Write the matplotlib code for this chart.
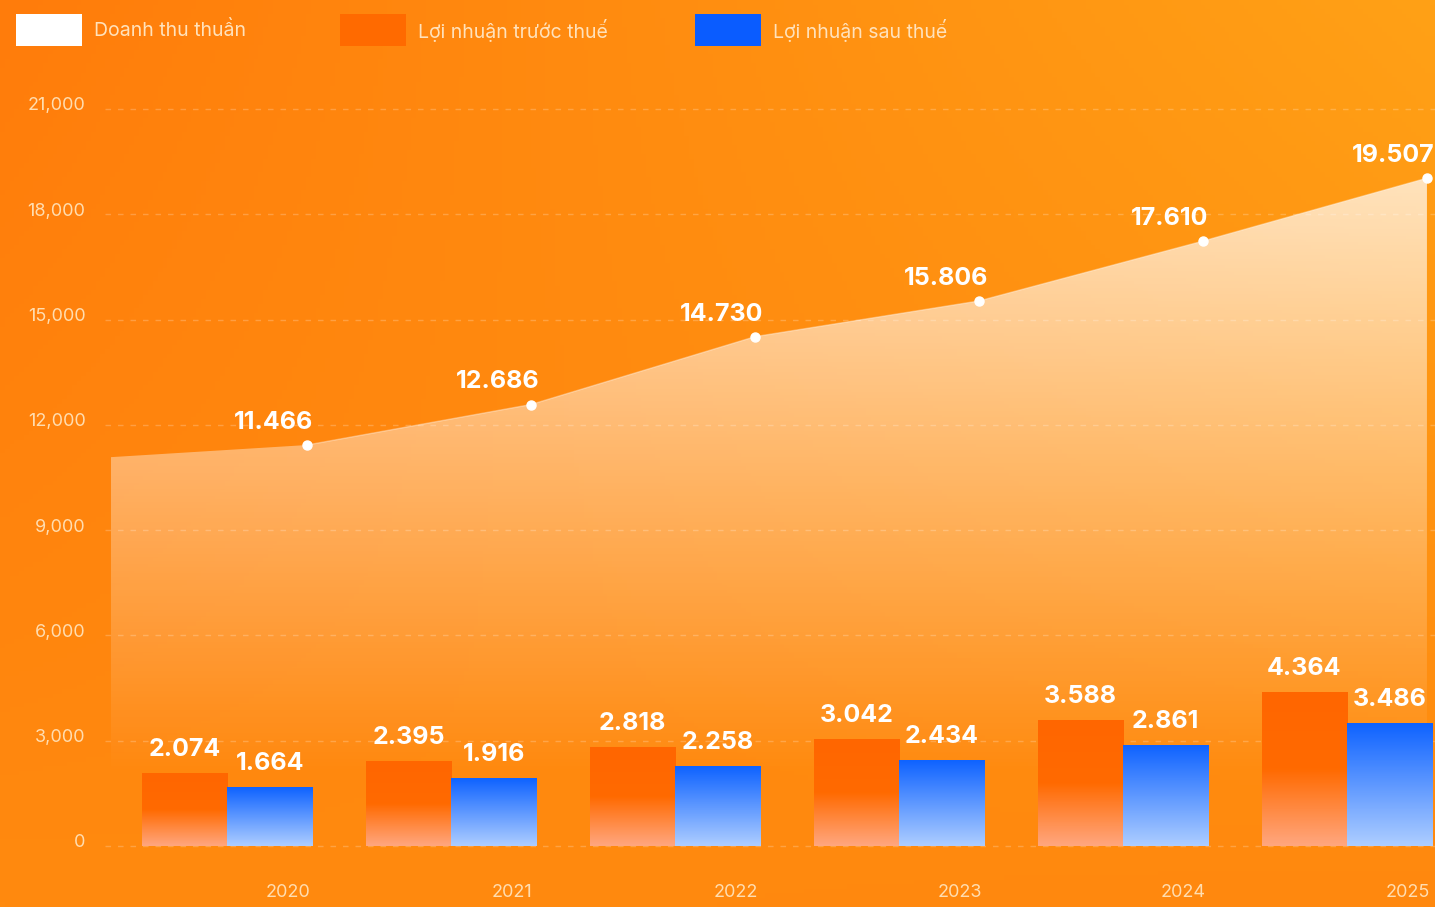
import numpy as np
import matplotlib.pyplot as plt
import matplotlib.transforms as mtransforms
from matplotlib.colors import LinearSegmentedColormap, to_rgb
from matplotlib.patches import Rectangle

plt.rcParams['font.family'] = ['Inter', 'DejaVu Sans']

# data (ty dong)
years = ['2020', '2021', '2022', '2023', '2024', '2025']
revenue = [11466, 12686, 14730, 15806, 17610, 19507]
revenue_start = 11100   # area begins a little left of 2020
profit_before = [2074, 2395, 2818, 3042, 3588, 4364]
profit_after = [1664, 1916, 2258, 2434, 2861, 3486]
yticks = [0, 3000, 6000, 9000, 12000, 15000, 18000, 21000]

W, H = 1435, 907
fig = plt.figure(figsize=(W / 100, H / 100), dpi=100)

# orange gradient background
bg = fig.add_axes([0, 0, 1, 1], zorder=0)
gx = np.linspace(0, 1, 300)[None, :, None]
gy = np.linspace(0, 1, 200)[:, None, None]
tl, tr, bl, br = [np.array(to_rgb(c)) for c in ['#FF7C0B', '#FFA116', '#FF8A0F', '#FF880E']]
img = (1 - gy) * ((1 - gx) * tl + gx * tr) + gy * ((1 - gx) * bl + gx * br)
bg.imshow(img, extent=[0, 1, 0, 1], aspect='auto', origin='upper')
bg.axis('off')

rect = [105 / W, 47 / H, 1 - 105 / W, 1 - 47 / H]
# ax: grid + ticks, ax2: revenue area (own, slightly compressed scale as in the original), ax3: bars
ax = fig.add_axes(rect, zorder=1)
ax.patch.set_alpha(0)
ax2 = fig.add_axes(rect, zorder=2, sharex=ax)
ax2.patch.set_alpha(0)
ax2.axis('off')
ax3 = fig.add_axes(rect, zorder=3, sharex=ax, sharey=ax)
ax3.patch.set_alpha(0)
ax3.axis('off')

x = np.arange(len(years))
line_x = x + 0.357

# revenue area with fading white fill
area_x = np.r_[-0.52, line_x]
area_y = np.r_[revenue_start, revenue]
poly = ax2.fill_between(area_x, area_y, -1100, facecolor='none', edgecolor='none')
vals = np.linspace(-1100, 20000, 400)[:, None]
rgba = np.ones((400, 1, 4))
rgba[..., 3] = np.clip(4e-5 * (vals - 1500), 0, 1)
im = ax2.imshow(rgba, extent=[area_x[0], area_x[-1], -1100, 20000], origin='lower',
                aspect='auto', zorder=1)
im.set_clip_path(poly.get_paths()[0], transform=ax2.transData)
ax2.plot(line_x, revenue, color='white', lw=1, alpha=0.35, zorder=3)
ax2.plot(line_x, revenue, 'o', color='white', ms=6.5, zorder=4)
for xi, v in zip(line_x, revenue):
    ax2.annotate(f'{v:,}'.replace(',', '.'), (xi, v), xytext=(-24, 8), textcoords='offset points',
                 ha='center', va='bottom', color='white', fontsize=18, fontweight='bold', zorder=5)
ax2.set_ylim(-1033, 24870)

# bars with vertical gradients
orange_cmap = LinearSegmentedColormap.from_list('o', [(0, '#FFA67E'), (0.5, '#FF6A00'), (1, '#FF6600')])
blue_cmap = LinearSegmentedColormap.from_list('b', ['#ADCDFF', '#0F63FF'])
grad = np.linspace(0, 1, 100)[:, None]
bw = 0.38
b1 = ax3.bar(x - bw / 2, profit_before, bw, color='none')
b2 = ax3.bar(x + bw / 2, profit_after, bw, color='none')
for bars, cmap in [(b1, orange_cmap), (b2, blue_cmap)]:
    for r in bars:
        x0, y0, w, h = r.get_x(), r.get_y(), r.get_width(), r.get_height()
        ax3.imshow(grad, extent=[x0, x0 + w, y0, y0 + h], origin='lower', cmap=cmap,
                   aspect='auto', zorder=2)
        ax3.annotate(f'{int(h):,}'.replace(',', '.'), (x0 + w / 2, h), xytext=(0, 9),
                     textcoords='offset points', ha='center', va='bottom', color='white',
                     fontsize=18, fontweight='bold', zorder=5)

ax.set_xlim(-0.545, 5.393)
ax.set_ylim(-399, 24103)
ax.set_yticks(yticks)
ax.set_yticklabels([f'{t:,}' for t in yticks])
ax.set_xticks(x + 0.27)
ax.set_xticklabels(years)
ax.tick_params(axis='y', length=0, pad=14, labelsize=13, labelcolor='#FFDDB0')
ax.tick_params(axis='x', length=0, pad=17, labelsize=13, labelcolor='#FFDDB0')
up = mtransforms.ScaledTranslation(0, 5 / 100, fig.dpi_scale_trans)
for lbl in ax.get_yticklabels():
    lbl.set_transform(lbl.get_transform() + up)
ax.grid(axis='y', color='white', alpha=0.22, lw=1, linestyle=(0, (4, 5)))
for s in ax.spines.values():
    s.set_visible(False)

# legend across the top
legend = [('Doanh thu thuần', '#FFFFFF', 16), ('Lợi nhuận trước thuế', '#FF6A00', 340),
          ('Lợi nhuận sau thuế', '#0A5CFF', 695)]
for label, col, px in legend:
    fig.patches.append(Rectangle((px / W, 1 - 46 / H), 66 / W, 32 / H, transform=fig.transFigure,
                                 facecolor=col, edgecolor='none', zorder=3))
    fig.text((px + 78) / W, 1 - 31 / H, label, color='#FFE2BC', fontsize=14, va='center', zorder=3)

fig.savefig('out.png', dpi=100)
